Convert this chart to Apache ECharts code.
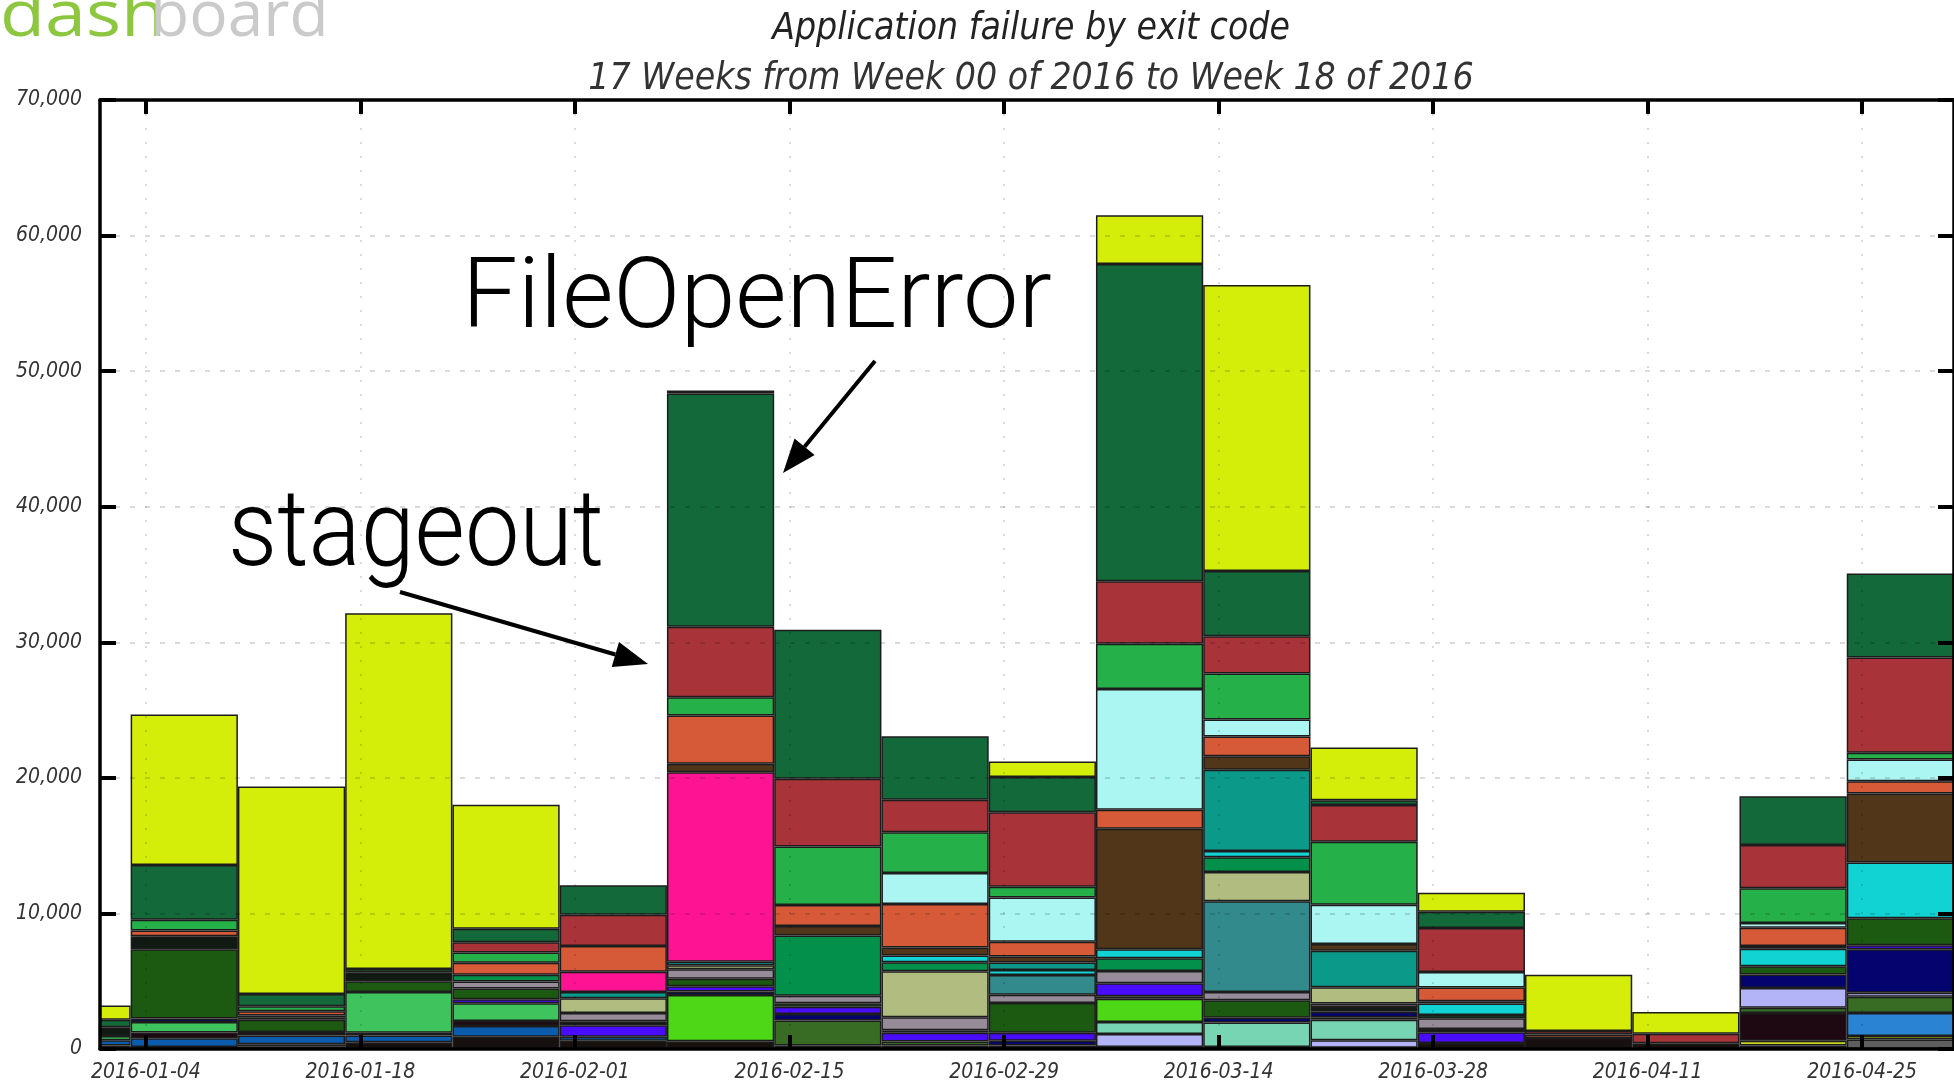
<!DOCTYPE html>
<html>
<head>
<meta charset="utf-8">
<title>Application failure by exit code</title>
<script src="https://cdn.jsdelivr.net/npm/echarts@6/dist/echarts.min.js"></script>
<style>
  html, body { margin: 0; padding: 0; background: #fff; }
  #chart { width: 1954px; height: 1084px; }
</style>
</head>
<body>
<div id="chart"></div>
<script>
// weeks (Monday of each week); the first one is only partly inside the plot
var weeks = ['2015-12-28', '2016-01-04', '2016-01-11', '2016-01-18', '2016-01-25', '2016-02-01',
  '2016-02-08', '2016-02-15', '2016-02-22', '2016-02-29', '2016-03-07', '2016-03-14',
  '2016-03-21', '2016-03-28', '2016-04-04', '2016-04-11', '2016-04-18', '2016-04-25'];

var tickDates = ['2016-01-04', '2016-01-18', '2016-02-01', '2016-02-15', '2016-02-29',
  '2016-03-14', '2016-03-28', '2016-04-11', '2016-04-25'];

var xStart = '2016-01-01', xEnd = '2016-05-01';
var yMax = 70000, yStep = 10000;

// failures per exit code and week, bottom of the stack first
var darkGray   = [0, 0, 0, 0, 0, 0, 0, 0, 0, 0, 0, 0, 0, 0, 0, 0, 0, 700];
var salmon     = [0, 0, 200, 0, 0, 0, 0, 0, 0, 0, 0, 0, 0, 0, 0, 0, 0, 0];
var blackLow   = [250, 150, 150, 500, 900, 600, 575, 250, 250, 250, 150, 150, 100, 450, 820, 420, 250, 0];
var olive      = [0, 0, 0, 0, 0, 0, 0, 0, 0, 0, 0, 0, 0, 0, 0, 0, 350, 250];
var blue       = [400, 650, 650, 490, 800, 300, 0, 0, 0, 0, 0, 0, 0, 0, 0, 0, 0, 0];
var maroonDark = [0, 420, 250, 200, 370, 0, 0, 0, 0, 0, 0, 0, 0, 0, 0, 0, 2050, 0];
var skyBlue    = [0, 0, 0, 0, 0, 0, 0, 0, 0, 0, 0, 0, 0, 0, 0, 0, 0, 1700];
var midGreen   = [300, 780, 0, 3010, 1300, 0, 0, 0, 0, 0, 0, 0, 0, 0, 0, 0, 0, 0];
var oliveGreen = [0, 0, 0, 0, 0, 0, 0, 1850, 300, 0, 0, 0, 0, 0, 0, 0, 400, 1200];
var lavender   = [0, 0, 0, 0, 0, 0, 0, 0, 0, 0, 950, 0, 550, 0, 0, 0, 1450, 300];
var mint       = [0, 0, 0, 0, 0, 0, 0, 0, 0, 0, 900, 1800, 1500, 0, 0, 0, 0, 0];
var lime       = [0, 0, 0, 0, 0, 0, 3410, 0, 0, 0, 1700, 0, 200, 0, 0, 0, 0, 0];
var navy       = [0, 250, 0, 0, 0, 0, 250, 480, 0, 350, 200, 350, 400, 0, 0, 0, 1000, 3200];
var violet     = [0, 0, 0, 0, 300, 850, 400, 540, 640, 600, 950, 0, 0, 780, 0, 0, 0, 300];
var forest     = [0, 5100, 900, 800, 800, 0, 550, 260, 0, 2200, 0, 1300, 0, 0, 0, 0, 600, 2000];
var blackHigh  = [650, 960, 150, 660, 0, 300, 0, 0, 200, 0, 0, 0, 350, 250, 0, 0, 0, 0];
var mauveGray  = [0, 0, 0, 0, 500, 600, 700, 540, 950, 600, 900, 600, 250, 780, 0, 0, 0, 0];
var steelTeal  = [0, 0, 0, 0, 0, 0, 0, 0, 0, 1450, 0, 6700, 0, 0, 0, 0, 0, 0];
var khaki      = [0, 0, 0, 0, 0, 1100, 300, 0, 3400, 0, 0, 2150, 1200, 0, 0, 0, 0, 0];
var jade       = [0, 0, 170, 0, 500, 0, 0, 4460, 650, 0, 950, 1100, 0, 250, 0, 0, 0, 0];
var cyan       = [0, 0, 0, 0, 0, 0, 250, 0, 500, 380, 650, 450, 0, 850, 0, 0, 1300, 4100];
var teal       = [0, 0, 0, 0, 0, 450, 0, 0, 0, 550, 0, 6000, 2700, 0, 0, 0, 0, 0];
var pink       = [0, 0, 0, 0, 0, 1500, 13970, 0, 0, 0, 0, 0, 0, 0, 0, 0, 0, 0];
var brown      = [0, 0, 0, 0, 0, 0, 640, 700, 600, 440, 8900, 1000, 490, 170, 0, 0, 200, 5100];
var orange     = [0, 440, 320, 0, 900, 1900, 3560, 1550, 3200, 1100, 1400, 1450, 0, 1000, 250, 0, 1350, 900];
var paleCyan   = [0, 0, 0, 0, 0, 0, 0, 0, 2300, 3260, 8900, 1250, 2900, 1150, 0, 0, 350, 1600];
var green      = [0, 780, 370, 250, 750, 0, 1340, 4300, 3000, 780, 3350, 3400, 4650, 0, 0, 0, 2550, 500];
var stageout   = [0, 0, 0, 0, 750, 2300, 5200, 5000, 2400, 5500, 4600, 2750, 2700, 3250, 250, 700, 3200, 7020];
var fileOpen   = [550, 4050, 900, 0, 1000, 2180, 17200, 11000, 4680, 2600, 23400, 4800, 350, 1200, 0, 0, 3600, 6200];
var yellow     = [1060, 11100, 15300, 26240, 9140, 0, 220, 0, 0, 1150, 3600, 21110, 3900, 1400, 4150, 1600, 0, 0];

var stack = [
  ['dark gray', '#5e5e5e', darkGray],
  ['salmon', '#d9705a', salmon],
  ['black', '#16100e', blackLow],
  ['olive', '#c3d61c', olive],
  ['blue', '#0b5cad', blue],
  ['dark maroon', '#1e0812', maroonDark],
  ['sky blue', '#2b83d3', skyBlue],
  ['medium green', '#3fc35c', midGreen],
  ['olive green', '#386b23', oliveGreen],
  ['lavender', '#b3b3f7', lavender],
  ['mint', '#78d5b3', mint],
  ['lime', '#4dd716', lime],
  ['navy', '#05046f', navy],
  ['violet', '#4a0dfb', violet],
  ['forest', '#1c5a12', forest],
  ['near black', '#111a12', blackHigh],
  ['mauve gray', '#958b99', mauveGray],
  ['steel teal', '#338a8d', steelTeal],
  ['khaki', '#b0bc80', khaki],
  ['jade', '#03904a', jade],
  ['cyan', '#12d3d3', cyan],
  ['teal', '#0b9a8a', teal],
  ['pink', '#fe1493', pink],
  ['brown', '#52361a', brown],
  ['orange', '#d65a38', orange],
  ['pale cyan', '#abf6f2', paleCyan],
  ['green', '#25b04a', green],
  ['stageout', '#a8343a', stageout],
  ['FileOpenError', '#13693a', fileOpen],
  ['yellow', '#d4ee0a', yellow]
];

var FONT = '"DejaVu Sans Condensed", "DejaVu Sans", sans-serif';
var DAY = 86400000;
function day(s) { return new Date(s + 'T00:00:00').getTime(); }
function pad(n) { return n < 10 ? '0' + n : '' + n; }
function dateLabel(v) {
  var d = new Date(v);
  return d.getFullYear() + '-' + pad(d.getMonth() + 1) + '-' + pad(d.getDate());
}

var chart = echarts.init(document.getElementById('chart'));
var W = chart.getWidth(), H = chart.getHeight();

var gridLeft = 100, gridRight = 0, gridTop = 100, gridBottom = 35;
var xMin = day(xStart), xMax = day(xEnd);
var dayPx = (W - gridLeft - gridRight) / ((xMax - xMin) / DAY);
var tickVals = tickDates.map(day);

// second grid holding one band per week; a week's bar runs Sunday to Sunday
var barsLeft = gridLeft + (day(weeks[0]) - DAY - xMin) / DAY * dayPx;
var barsWidth = weeks.length * 7 * dayPx;

var series = stack.map(function (s) {
  return {
    name: s[0],
    type: 'bar',
    stack: 'exit',
    xAxisIndex: 2,
    yAxisIndex: 2,
    barCategoryGap: 0,
    itemStyle: { color: s[1], borderColor: '#1c1c1c', borderWidth: 1.5 },
    data: s[2].map(function (v) { return v || '-'; })
  };
});

var axisLine = { show: true, onZero: false, lineStyle: { color: '#000', width: 3.5 } };
var tick = function (len) {
  return { show: true, inside: true, length: len, lineStyle: { color: '#000', width: 4 } };
};
var labelStyle = { color: '#333', fontStyle: 'italic', fontFamily: FONT, fontSize: 21 };

function arrow(x1, y1, x2, y2) {
  var a = Math.atan2(y2 - y1, x2 - x1);
  var len = 34, half = 13;
  var bx = x2 - len * Math.cos(a), by = y2 - len * Math.sin(a);
  return [{
    type: 'line', z: 20,
    shape: { x1: x1, y1: y1, x2: bx, y2: by },
    style: { stroke: '#000', lineWidth: 4 }
  }, {
    type: 'polygon', z: 20,
    shape: { points: [[x2, y2],
      [bx - half * Math.sin(a), by + half * Math.cos(a)],
      [bx + half * Math.sin(a), by - half * Math.cos(a)]] },
    style: { fill: '#000' }
  }];
}

var logoFont = '64px "Open Sans", sans-serif';
var noteFont = '300 {s}px Roboto, "Liberation Sans", sans-serif';

var graphics = [
  // hides the part of the first week that falls left of the plot
  { type: 'rect', z: 5, silent: true,
    shape: { x: 0, y: gridTop - 4, width: gridLeft - 1, height: H - gridTop - gridBottom + 8 },
    style: { fill: '#fff' } },
  { type: 'text', x: 0, y: 18, z: 20, scaleX: 1.15,
    style: { text: 'dash', fill: '#8dc63f', font: logoFont, textVerticalAlign: 'middle' } },
  { type: 'text', x: 150, y: 18, z: 20,
    style: { text: 'board', fill: '#cacaca', font: logoFont, textVerticalAlign: 'middle' } },
  { type: 'text', x: 1031, y: 29, z: 20,
    style: { text: 'Application failure by exit code', fill: '#222', font: 'italic 37px ' + FONT,
      textAlign: 'center', textVerticalAlign: 'middle' } },
  { type: 'text', x: 1031, y: 79, z: 20,
    style: { text: '17 Weeks from Week 00 of 2016 to Week 18 of 2016', fill: '#333', font: 'italic 37px ' + FONT,
      textAlign: 'center', textVerticalAlign: 'middle' } },
  { type: 'text', x: 462, y: 302, z: 20,
    style: { text: 'FileOpenError', fill: '#000', font: noteFont.replace('{s}', 99),
      textVerticalAlign: 'middle' } },
  { type: 'text', x: 228, y: 538, z: 20, scaleX: 0.9,
    style: { text: 'stageout', fill: '#000', font: noteFont.replace('{s}', 108),
      textVerticalAlign: 'middle' } }
].concat(arrow(875, 361, 783, 473), arrow(400, 592, 648, 664));

chart.setOption({
  animation: false,
  backgroundColor: '#fff',
  grid: [
    { left: gridLeft, right: gridRight, top: gridTop, bottom: gridBottom, outerBoundsMode: 'none' },
    { left: barsLeft, width: barsWidth, top: gridTop, bottom: gridBottom, outerBoundsMode: 'none' }
  ],
  tooltip: { show: false },
  xAxis: [{
    type: 'value', gridIndex: 0, position: 'bottom', min: xMin, max: xMax, z: 10,
    axisLine: axisLine,
    axisTick: Object.assign(tick(14), { customValues: tickVals }),
    axisLabel: Object.assign({ customValues: tickVals, formatter: dateLabel, margin: 13, hideOverlap: false }, labelStyle),
    splitLine: { show: true, lineStyle: { color: 'rgba(0,0,0,0.19)', width: 1.5, type: [2, 12] } }
  }, {
    type: 'value', gridIndex: 0, position: 'top', min: xMin, max: xMax, z: 10,
    axisLine: axisLine,
    axisTick: Object.assign(tick(14), { customValues: tickVals }),
    axisLabel: { show: false },
    splitLine: { show: false }
  }, {
    type: 'category', gridIndex: 1, data: weeks, show: false
  }],
  yAxis: [{
    type: 'value', gridIndex: 0, position: 'left', min: 0, max: yMax, interval: yStep, z: 10,
    axisLine: axisLine,
    axisTick: tick(16),
    axisLabel: Object.assign({ margin: 18, formatter: function (v) { return v.toLocaleString('en-US'); } }, labelStyle),
    splitLine: { show: true, lineStyle: { color: 'rgba(0,0,0,0.19)', width: 1.5, type: [5, 10] } }
  }, {
    type: 'value', gridIndex: 0, position: 'right', min: 0, max: yMax, interval: yStep, z: 10,
    axisLine: axisLine,
    axisTick: tick(16),
    axisLabel: { show: false },
    splitLine: { show: false }
  }, {
    type: 'value', gridIndex: 1, min: 0, max: yMax, show: false
  }],
  graphic: graphics,
  series: series
});
</script>
</body>
</html>
